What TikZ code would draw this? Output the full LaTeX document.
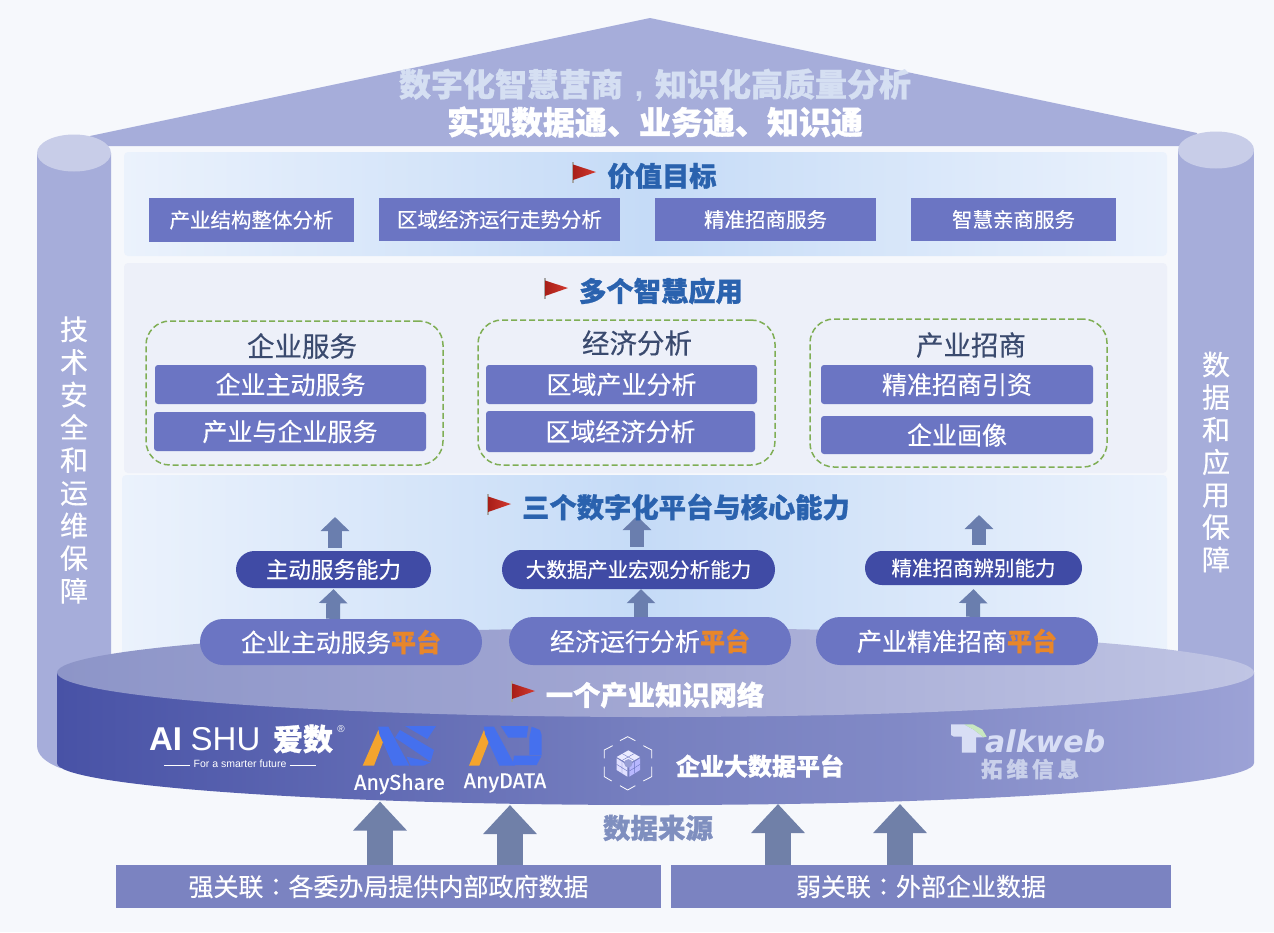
\documentclass[tikz,border=0pt]{standalone}
\usepackage{fontspec}
\setmainfont[FakeBold=0.35,BoldFeatures={FakeBold=1.0}]{Noto Sans CJK SC}
\newfontfamily\tcf[FakeBold=0.35,BoldFeatures={FakeBold=1.0}]{Noto Sans CJK TC}
\newfontfamily\latinf{Liberation Sans}
\newfontfamily\firaf[FakeBold=0.5]{Fira Sans}
\newfontfamily\dejaf{DejaVu Sans}
\usetikzlibrary{arrows.meta,shapes.misc}
\newcommand{\fsz}[1]{\fontsize{#1}{#1}\selectfont}
\definecolor{bgc}{HTML}{F6F8FC}
\definecolor{roofc}{HTML}{A6ADDA}
\definecolor{capc}{HTML}{C8CDE8}
\definecolor{boxc}{HTML}{6B75C3}
\definecolor{pillc}{HTML}{404BA5}
\definecolor{arrc}{HTML}{6A7EAE}
\definecolor{bigarr}{HTML}{7080A8}
\definecolor{srcc}{HTML}{7B83C1}
\definecolor{titlec}{HTML}{2A62AE}
\definecolor{groupc}{HTML}{3A4A6E}
\definecolor{dashc}{HTML}{7FAE55}
\definecolor{orangec}{HTML}{E8862A}
\definecolor{blogo}{HTML}{4570EE}
\definecolor{ologo}{HTML}{F4A42E}
\definecolor{flagA}{HTML}{A81E18}
\definecolor{flagB}{HTML}{D23A30}
\definecolor{bandedge}{HTML}{EBF2FC}
\definecolor{bandmid}{HTML}{C5DBF7}
\definecolor{panelc}{HTML}{EDF0F9}
\definecolor{rooftext}{HTML}{D5DFF2}
\definecolor{talkc}{HTML}{D8DEF5}
\definecolor{talkg}{HTML}{C8E8C0}
\definecolor{twc}{HTML}{C9D0EA}
\definecolor{srct}{HTML}{7F8FBF}
\definecolor{dsA}{HTML}{4852A6}
\definecolor{dsB}{HTML}{7780C0}
\definecolor{dsC}{HTML}{8189C6}
\definecolor{dsD}{HTML}{9CA2D6}
\definecolor{dtA}{HTML}{8D95C8}
\definecolor{dtB}{HTML}{A2A7D3}
\definecolor{dtC}{HTML}{C0C5E4}
\pgfdeclarehorizontalshading{discside}{100bp}{color(0bp)=(dsA);color(25bp)=(dsA);color(50bp)=(dsB);color(60bp)=(dsC);color(75bp)=(dsD);color(100bp)=(dsD)}
\pgfdeclarehorizontalshading{disctop}{100bp}{color(0bp)=(dtA);color(25bp)=(dtA);color(50bp)=(dtB);color(75bp)=(dtC);color(100bp)=(dtC)}
\tikzset{
  panelband/.style={rounded corners=4pt,left color=bandedge,right color=bandedge,middle color=bandmid},
  rowbox/.style={fill=boxc,text=white,inner sep=0pt,font=\fsz{20.5}},
  appbox/.style={fill=boxc,text=white,inner sep=0pt,rounded corners=3pt,font=\fsz{25}},
  groupbox/.style={draw=dashc,line width=1.5pt,dash pattern=on 6pt off 3pt,rounded corners=24pt,inner sep=0pt},
  grouptitle/.style={text=groupc,inner sep=0pt,font=\fsz{27.5}},
  sectitle/.style={text=titlec,inner sep=0pt,font=\fsz{27.3}\bfseries},
  cappill/.style={rounded rectangle,fill=pillc,text=white,inner sep=0pt},
  platpill/.style={rounded rectangle,fill=boxc,text=white,inner sep=0pt,font=\fsz{25}},
  smallarr/.style={draw=arrc,line width=14pt,-{Triangle[length=14pt,width=28pt]}},
  largearr/.style={draw=bigarr,line width=26pt,-{Triangle[length=29pt,width=52pt]}},
  srcbox/.style={fill=srcc,text=white,inner sep=0pt,font=\fsz{25}},
  flagmark/.pic={
    \fill[gray!70] (0,-1) rectangle (1.5,20);
    \shade[left color=flagA,right color=flagB] (1,1.5) -- (24,9) -- (1,17) -- cycle;
  },
}
\begin{document}
\begin{tikzpicture}[x=1pt,y=-1pt]
\useasboundingbox (0,0) rectangle (1274,932);
\fill[bgc] (0,0) rectangle (1274,932);
% roof
\fill[roofc] (90,136) -- (650,18) -- (1197,133) -- (1197,146) -- (90,146) -- cycle;
% columns
\fill[roofc] (37,153) -- (37,745) .. controls (37,755) and (45,762) .. (60,768) -- (111,768) -- (111,153) -- cycle;
\fill[capc] (74,153) ellipse [x radius=37pt,y radius=18.5pt];
\fill[roofc] (1178,150) rectangle (1254,740);
\fill[capc] (1216,150) ellipse [x radius=38pt,y radius=18.5pt];
% panels
\shade[panelband] (124,152) rectangle (1167,256);
\fill[rounded corners=4pt,fill=panelc] (124,263) rectangle (1167,473);
\shade[panelband] (122,475) rectangle (1167,660);
% disc
\shade[shading=discside] (57,672) -- (57,763) .. controls (57,786) and (325,805) .. (655,805) .. controls (985,805) and (1254,786) .. (1254,763) -- (1254,672) -- cycle;
\shade[shading=disctop] (655.5,672.5) ellipse [x radius=598.5pt,y radius=44.5pt];
% titles on the roof
\node[text=rooftext,inner sep=0pt,font=\fsz{32}\bfseries] (roof1) at (655,85) {数字化智慧营商\makebox[32pt][c]{\latinf ,}知识化高质量分析};
\node[text=white,inner sep=0pt,font=\fsz{32}\bfseries] (roof2) at (655,122) {实现数据通、业务通、知识通};
% side texts
\node[text=white,inner sep=0pt,align=center,font=\fontsize{28}{32.7}\selectfont] (sideL) at (74,460) {技\\术\\安\\全\\和\\运\\维\\保\\障};
\node[text=white,inner sep=0pt,align=center,font=\fontsize{28}{32.5}\selectfont] (sideR) at (1216,462) {数\\据\\和\\应\\用\\保\\障};
% value row
\pic at (572,163) {flagmark};
\node[sectitle] (t1) at (662,176) {价值目标};
\node[rowbox,minimum width=205pt,minimum height=44pt] (r1) at (251.5,220) {产业结构整体分析};
\node[rowbox,minimum width=241pt,minimum height=43pt] (r2) at (499.5,219.5) {区域经济运行走势分析};
\node[rowbox,minimum width=221pt,minimum height=43pt] (r3) at (765.5,219.5) {精准招商服务};
\node[rowbox,minimum width=205pt,minimum height=43pt] (r4) at (1013.5,219.5) {智慧亲商服务};
% apps
\pic at (544,279) {flagmark};
\node[sectitle] (t2) at (661,291) {多个智慧应用};
\node[groupbox,minimum width=297pt,minimum height=144pt] (g1) at (294.5,393) {};
\node[groupbox,minimum width=297pt,minimum height=145pt] (g2) at (626.5,392.5) {};
\node[groupbox,minimum width=297pt,minimum height=148pt] (g3) at (958.5,393) {};
\node[grouptitle] (gt1) at (302,346) {企业服务};
\node[grouptitle] (gt2) at (637,343) {经济分析};
\node[grouptitle] (gt3) at (971,345) {产业招商};
\node[appbox,minimum width=271pt,minimum height=39pt] (a1) at (290.5,384.5) {企业主动服务};
\node[appbox,minimum width=272pt,minimum height=39pt] (a2) at (290,431.5) {产业与企业服务};
\node[appbox,minimum width=271pt,minimum height=39pt] (a3) at (621.5,384.5) {区域产业分析};
\node[appbox,minimum width=269pt,minimum height=41pt] (a4) at (620.5,431.5) {区域经济分析};
\node[appbox,minimum width=272pt,minimum height=39pt] (a5) at (957,384.5) {精准招商引资};
\node[appbox,minimum width=272pt,minimum height=38pt] (a6) at (957,435) {企业画像};
% capabilities and platforms
\node[cappill,minimum width=195pt,minimum height=37pt,font=\fsz{22.5}] (c1) at (333.5,569.5) {主动服务能力};
\node[cappill,minimum width=273pt,minimum height=39pt,font=\fsz{20.5}] (c2) at (638.5,569.5) {大数据产业宏观分析能力};
\node[cappill,minimum width=217pt,minimum height=34pt,font=\fsz{20.5}] (c3) at (973.5,568) {精准招商辨别能力};
\node[platpill,minimum width=282pt,minimum height=46pt] (p1) at (341,642) {企业主动服务\textcolor{orangec}{\bfseries 平台}};
\node[platpill,minimum width=282pt,minimum height=48pt] (p2) at (650,641) {经济运行分析\textcolor{orangec}{\bfseries 平台}};
\node[platpill,minimum width=282pt,minimum height=48pt] (p3) at (957,641) {产业精准招商\textcolor{orangec}{\bfseries 平台}};
\coordinate (u1) at (335,517);
\coordinate (u2) at (637,516);
\coordinate (u3) at (979,515);
\draw[smallarr] ([xshift=1.5pt,yshift=3pt]c1.north) -- (u1);
\draw[smallarr] ([xshift=-1.5pt,yshift=3pt]c2.north) -- (u2);
\draw[smallarr] ([xshift=5.5pt,yshift=6pt]c3.north) -- (u3);
\draw[smallarr] ([xshift=-8pt]p1.north) -- ([yshift=-1pt]c1.south);
\draw[smallarr] ([xshift=-9pt]p2.north) -- ([xshift=2.5pt]c2.south);
\draw[smallarr] ([xshift=16pt]p3.north) -- ([yshift=-4pt]c3.south);
\pic at (487,495) {flagmark};
\node[sectitle] (t3) at (686,507) {三个数字化平台与核心能力};
% knowledge network
\pic at (511,682) {flagmark};
\node[sectitle,text=white] (t4) at (655,695) {一个产业知识网络};
% AISHU logo
\node[text=white,inner sep=0pt,font=\latinf\fsz{33}\bfseries] (ai) at (165.5,739) {AI};
\node[text=white,inner sep=0pt,font=\latinf\fsz{33}] (shu) at (225.5,739) {SHU};
\node[text=white,inner sep=0pt,font=\fsz{30}\bfseries] (aishu) at (303,739) {爱数};
\node[text=white,inner sep=0pt,font=\latinf\fsz{10}] (reg) at (341,729) {®};
\node[text=white,inner sep=0pt,font=\latinf\fsz{10.5}] (fut) at (240,764) {For a smarter future};
\draw[white,line width=.6pt] (164,765) -- ([xshift=-3pt,yshift=-1pt]fut.west);
\draw[white,line width=.6pt] ([xshift=3pt,yshift=-1pt]fut.east) -- (316,765);
% AnyShare / AnyDATA logos
\begin{scope}[shift={(340,715)},x=.3333pt,y=-.3333pt]
\fill[ologo] (68,152) -- (115,45) -- (130,78) -- (102,152) -- cycle;
\fill[blogo] (115,35) -- (145,35) -- (208,152) -- (160,152) -- (118,58) -- cycle;
\fill[blogo] (165,68) -- (180,45) -- (282,105) -- (272,140) -- cycle;
\fill[blogo] (195,33) -- (288,33) -- (262,72) -- cycle;
\fill[blogo] (200,125) -- (272,142) -- (250,152) -- (212,152) -- cycle;
\fill[ologo] (387,152) -- (432,45) -- (447,78) -- (418,152) -- cycle;
\fill[blogo] (432,35) -- (462,35) -- (525,152) -- (478,152) -- (435,58) -- cycle;
\fill[blogo] (482,33) -- (565,33) -- (560,68) -- (505,68) -- cycle;
\fill[blogo] (575,35) -- (600,45) -- (605,60) -- (605,120) -- (568,120) -- (568,70) -- cycle;
\fill[blogo] (522,122) -- (605,122) -- (590,150) -- (518,150) -- cycle;
\end{scope}
\node[text=white,inner sep=0pt,font=\firaf\fsz{21.5}] (anys) at (399.5,784) {AnyShare};
\node[text=white,inner sep=0pt,font=\firaf\fsz{21.5}] (anyd) at (505,783) {AnyDATA};
% data platform icon
\begin{scope}[shift={(590,725)},x=.3333pt,y=-.3333pt]
\draw[white,line width=.8pt] (90,47) -- (113,35) -- (136,47);
\draw[white,line width=.8pt] (68,62) -- (43,75) -- (43,100);
\draw[white,line width=.8pt] (160,62) -- (185,75) -- (185,100);
\draw[white,line width=.8pt] (43,125) -- (43,155) -- (65,168);
\draw[white,line width=.8pt] (185,125) -- (185,155) -- (160,168);
\draw[white,line width=.8pt] (90,182) -- (113,195) -- (136,182);
\fill[white!92!blue] (115,76) -- (150,96) -- (115,116) -- (80,96) -- cycle;
\fill[white!88!blue] (80,100) -- (112,120) -- (112,155) -- (80,135) -- cycle;
\fill[white!72!blue] (150,100) -- (118,120) -- (118,155) -- (150,135) -- cycle;
\draw[boxc,line width=.4pt] (97,86) -- (132,106) (132,86) -- (97,106) (96,110) -- (96,145) (134,110) -- (134,145) (80,118) -- (112,138) (150,118) -- (118,138);
\fill[boxc!70] (115,115) circle [radius=4.2pt];
\end{scope}
\node[text=white,inner sep=0pt,font=\fsz{24}\bfseries] (edp) at (760,766) {企业大数据平台};
% Talkweb logo
\begin{scope}[shift={(640,620)},x=.405pt,y=-.3333pt]
\fill[talkc] (768,313) -- (800,313) -- (825,330) -- (848,352) -- (830,352) -- (830,398) -- (795,398) -- (795,350) -- (775,350) -- (768,345) -- cycle;
\fill[talkg] (800,313) -- (822,313) -- (845,328) -- (856,350) -- (848,352) -- (825,330) -- cycle;
\end{scope}
\node[text=talkc,inner sep=0pt,anchor=base west,font=\dejaf\fsz{30}\bfseries\itshape] (talk) at (985,752.5) {alkweb};
\node[text=twc,inner sep=0pt,font=\fsz{21.5}\bfseries] (tw) at (1030,769) {拓\hspace{4pt}维\hspace{4pt}信\hspace{4pt}息};
% sources
\node[text=srct,inner sep=0pt,font=\fsz{27.5}\bfseries] (src) at (658,828) {数据来源};
\node[srcbox,minimum width=545pt,minimum height=43pt] (b1) at (388.5,886.5) {强关联{\tcf ：}各委办局提供内部政府数据};
\node[srcbox,minimum width=500pt,minimum height=43pt] (b2) at (921,886.5) {弱关联{\tcf ：}外部企业数据};
\coordinate (d1) at (380,801.5);
\coordinate (d2) at (510,805);
\coordinate (d3) at (778,804);
\coordinate (d4) at (900,804);
\draw[largearr] ([xshift=-8.5pt]b1.north) -- (d1);
\draw[largearr] ([xshift=121.5pt]b1.north) -- (d2);
\draw[largearr] ([xshift=-143pt]b2.north) -- (d3);
\draw[largearr] ([xshift=-21pt]b2.north) -- (d4);
\end{tikzpicture}
\end{document}
